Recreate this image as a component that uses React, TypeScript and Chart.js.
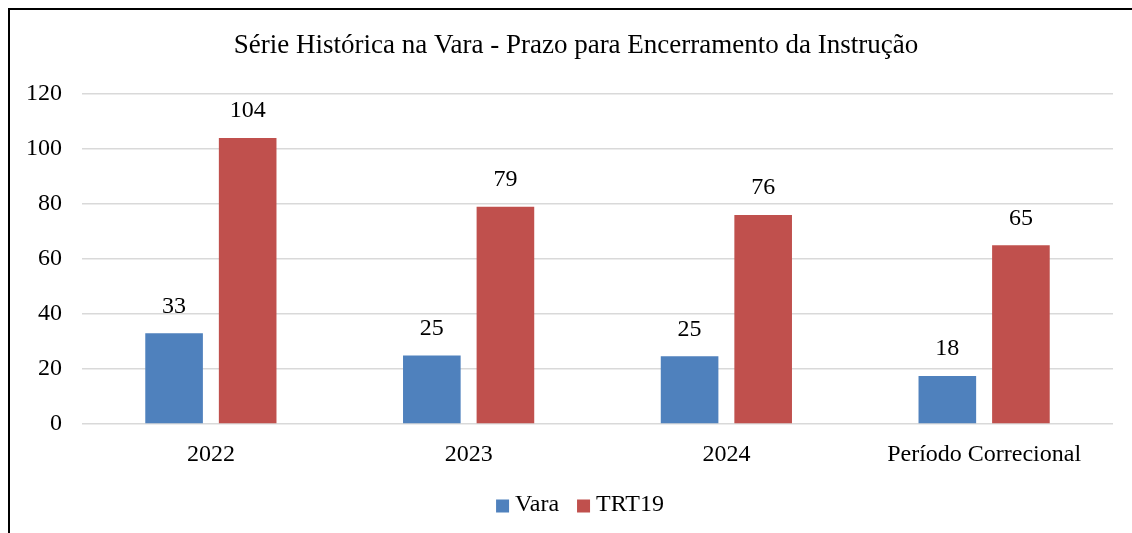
import React, { useEffect, useRef } from "react";
import { Chart, registerables } from "chart.js";

Chart.register(...registerables);

const categories = ["2022", "2023", "2024", "Período Correcional"];
const varaValues = [33, 24.9, 24.6, 17.5];
const trtValues = [104, 79, 76, 65];
const seriesNames = ["Vara", "TRT19"];
const seriesColors = ["#4f81bd", "#c0504d"];
const yTicks = { min: 0, max: 120, step: 20 };
const titleText = "Série Histórica na Vara - Prazo para Encerramento da Instrução";

const FONT = '"Liberation Serif", "Times New Roman", serif';

const titlePlugin = {
  id: "customTitle",
  afterDraw(chart: any) {
    const ctx = chart.ctx;
    ctx.save();
    ctx.font = `27px ${FONT}`;
    ctx.fillStyle = "#000";
    ctx.textAlign = "center";
    ctx.textBaseline = "middle";
    ctx.fillText(titleText, 566, 36);
    ctx.restore();
  },
};

const dataLabelPlugin = {
  id: "dataLabels",
  afterDatasetsDraw(chart: any) {
    const ctx = chart.ctx;
    ctx.save();
    ctx.font = `24px ${FONT}`;
    ctx.fillStyle = "#000";
    ctx.textAlign = "center";
    ctx.textBaseline = "middle";
    chart.data.datasets.forEach((ds: any, di: number) => {
      const meta = chart.getDatasetMeta(di);
      meta.data.forEach((bar: any, i: number) => {
        ctx.fillText(String(Math.round(ds.data[i])), bar.x, bar.y - 27);
      });
    });
    ctx.restore();
  },
};

const legendPlugin = {
  id: "customLegend",
  afterDraw(chart: any) {
    const ctx = chart.ctx;
    ctx.save();
    ctx.font = `24px ${FONT}`;
    ctx.textBaseline = "middle";
    ctx.textAlign = "left";
    const box = 13;
    const gapText = 6;
    const gapItem = 18;
    const items = chart.data.datasets.map((ds: any) => ({
      text: ds.label,
      color: ds.backgroundColor,
      w: box + gapText + ctx.measureText(ds.label).width,
    }));
    const total = items.reduce((s: number, it: any) => s + it.w, 0) + gapItem * (items.length - 1);
    let x = 570 - total / 2;
    const cy = 496;
    items.forEach((it: any) => {
      ctx.fillStyle = it.color;
      ctx.fillRect(x, cy - box / 2, box, box);
      ctx.fillStyle = "#000";
      ctx.fillText(it.text, x + box + gapText, cy - 1);
      x += it.w + gapItem;
    });
    ctx.restore();
  },
};

export default function App() {
  const ref = useRef<HTMLCanvasElement | null>(null);

  useEffect(() => {
    if (!ref.current) return;
    const chart = new Chart(ref.current, {
      type: "bar",
      data: {
        labels: categories,
        datasets: [
          {
            label: seriesNames[0],
            data: varaValues,
            backgroundColor: seriesColors[0],
            categoryPercentage: 0.571,
            barPercentage: 0.783,
          },
          {
            label: seriesNames[1],
            data: trtValues,
            backgroundColor: seriesColors[1],
            categoryPercentage: 0.571,
            barPercentage: 0.783,
          },
        ],
      },
      options: {
        animation: false,
        responsive: false,
        maintainAspectRatio: false,
        layout: { padding: { left: 0, right: 19, top: 84, bottom: 0 } },
        plugins: {
          legend: { display: false },
          tooltip: { enabled: false },
          title: { display: false },
        },
        scales: {
          x: {
            grid: { display: false, drawTicks: false },
            border: { display: false },
            ticks: {
              color: "#000",
              font: { family: FONT, size: 24 },
              padding: 16,
              maxRotation: 0,
            },
            afterFit(scale: any) {
              scale.height = 109;
            },
          },
          y: {
            min: yTicks.min,
            max: yTicks.max,
            grid: { color: "#d9d9d9", lineWidth: 1.5, drawTicks: false },
            border: { display: false },
            ticks: {
              stepSize: yTicks.step,
              color: "#000",
              font: { family: FONT, size: 24 },
              padding: 20,
            },
            afterFit(scale: any) {
              scale.width = 72;
            },
          },
        },
      },
      plugins: [titlePlugin, dataLabelPlugin, legendPlugin],
    });
    return () => chart.destroy();
  }, []);

  return (
    <div style={{ padding: "8px 0 0 8px" }}>
      <style>{`body{margin:0;overflow:hidden;}`}</style>
      <div
        style={{
          width: 1124,
          height: 525,
          boxSizing: "border-box",
          borderTop: "2px solid #000",
          borderLeft: "2px solid #000",
          background: "#fff",
        }}
      >
        <canvas ref={ref} width={1122} height={523} style={{ display: "block" }} />
      </div>
    </div>
  );
}
